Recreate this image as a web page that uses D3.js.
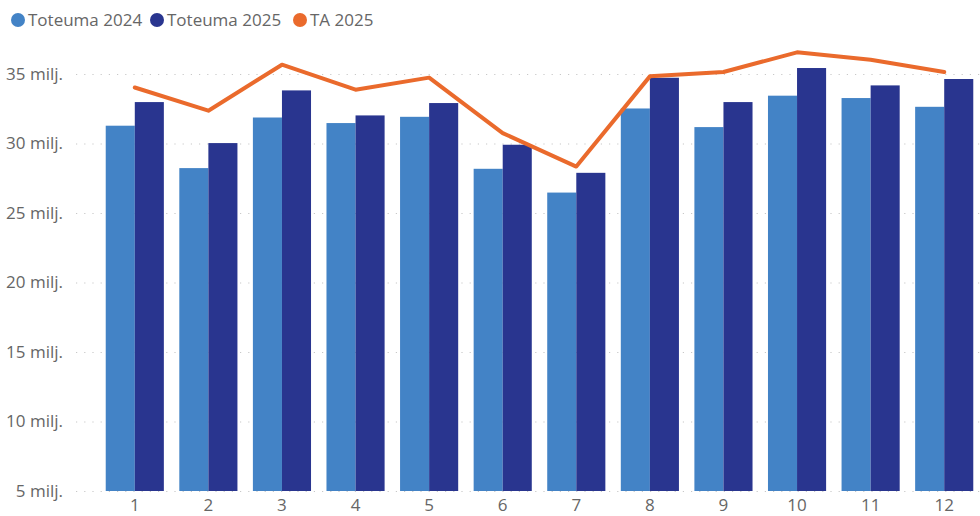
<!DOCTYPE html>
<html>
<head>
<meta charset="utf-8">
<script src="https://cdn.jsdelivr.net/npm/d3@7"></script>
<style>
  body { margin: 0; background: #fff; }
  svg { display: block; }
  svg text { font-family: "Open Sans", "Noto Sans", sans-serif; }
</style>
</head>
<body>
<svg id="chart" width="980" height="516"></svg>
<script>
// Months and values (millions)
const months = ["1", "2", "3", "4", "5", "6", "7", "8", "9", "10", "11", "12"];
const toteuma2024 = [31.28, 28.23, 31.87, 31.47, 31.92, 28.18, 26.47, 32.52, 31.18, 33.44, 33.27, 32.64];
const toteuma2025 = [32.98, 30.03, 33.82, 32.02, 32.91, 29.91, 27.89, 34.73, 32.98, 35.43, 34.18, 34.64];
const ta2025 = [34.03, 32.36, 35.67, 33.87, 34.74, 30.75, 28.34, 34.83, 35.14, 36.56, 36.03, 35.14];
const yTicks = [5, 10, 15, 20, 25, 30, 35];
const seriesNames = ["Toteuma 2024", "Toteuma 2025", "TA 2025"];

const colors = {
    light: "#4383c6",
    dark: "#29358f",
    line: "#ea6a2c"
};

const svg = d3.select("#chart");

const x = d3.scaleBand()
    .domain(months)
    .range([98, 981])
    .paddingInner(0.21)
    .paddingOuter(0.105);

const xSub = d3.scaleBand()
    .domain([0, 1])
    .range([0, x.bandwidth()]);

const y = d3.scaleLinear()
    .domain([5, 35])
    .range([491, 74]);

// Gridlines + y labels
const yAxis = d3.axisLeft(y)
    .tickValues(yTicks)
    .tickSize(-(980 - 76))
    .tickPadding(13)
    .tickFormat((d) => d + " milj.");

const gy = svg.append("g")
    .attr("transform", "translate(76,0)")
    .call(yAxis);
gy.select(".domain").remove();
gy.selectAll(".tick line")
    .attr("stroke", "#c8c8c8")
    .attr("stroke-width", 1.2)
    .attr("stroke-dasharray", "1.2,7");
gy.selectAll(".tick text")
    .attr("fill", "#666")
    .style("font-size", "17px");

// Bars
const groups = svg.append("g")
    .selectAll("g")
    .data(months)
    .enter()
    .append("g")
    .attr("transform", (d) => "translate(" + x(d) + ",0)");

groups.append("rect")
    .attr("x", xSub(0))
    .attr("width", xSub.bandwidth())
    .attr("y", (d, i) => y(toteuma2024[i]))
    .attr("height", (d, i) => y(5) - y(toteuma2024[i]))
    .attr("fill", colors.light);

groups.append("rect")
    .attr("x", xSub(1))
    .attr("width", xSub.bandwidth())
    .attr("y", (d, i) => y(toteuma2025[i]))
    .attr("height", (d, i) => y(5) - y(toteuma2025[i]))
    .attr("fill", colors.dark);

// TA line
const line = d3.line()
    .x((d, i) => x(months[i]) + x.bandwidth() / 2)
    .y((d) => y(d));

svg.append("path")
    .datum(ta2025)
    .attr("d", line)
    .attr("fill", "none")
    .attr("stroke", colors.line)
    .attr("stroke-width", 4)
    .attr("stroke-linejoin", "round")
    .attr("stroke-linecap", "round");

// X labels
const xAxis = d3.axisBottom(x).tickSize(0).tickPadding(8);
const gx = svg.append("g")
    .attr("transform", "translate(0,491)")
    .call(xAxis);
gx.select(".domain").remove();
gx.selectAll(".tick text")
    .attr("fill", "#666")
    .style("font-size", "17px");

// Legend
const legendX = [18, 157, 300];
const legendColors = [colors.light, colors.dark, colors.line];
const legend = svg.append("g")
    .selectAll("g")
    .data(seriesNames)
    .enter()
    .append("g")
    .attr("transform", (d, i) => "translate(" + legendX[i] + ",20)");

legend.append("circle")
    .attr("r", 7)
    .attr("fill", (d, i) => legendColors[i]);

legend.append("text")
    .attr("x", 10)
    .attr("dy", "0.35em")
    .attr("fill", "#666")
    .style("font-size", "17px")
    .text((d) => d);
</script>
</body>
</html>
